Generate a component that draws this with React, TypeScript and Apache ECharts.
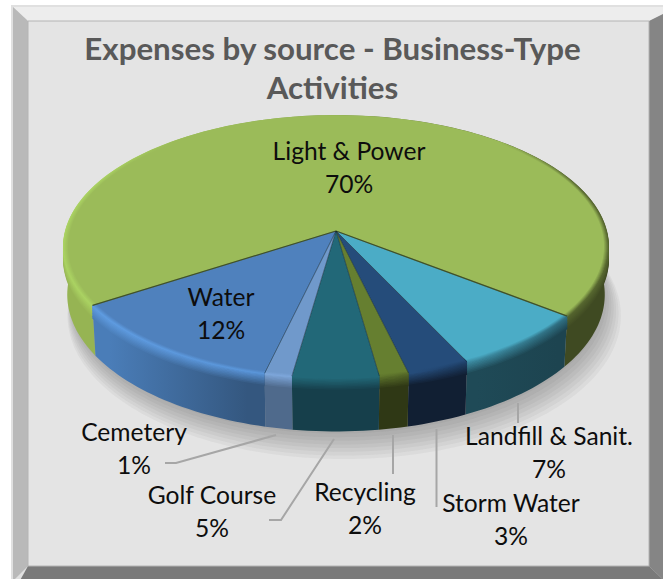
import React, { useEffect, useRef } from "react";
import * as echarts from "echarts";

const titleText = "Expenses by source - Business-Type\nActivities";
const categories = ["Light & Power", "Landfill & Sanit.", "Storm Water", "Recycling", "Golf Course", "Cemetery", "Water"];
const shares = [69.5, 7.45, 3.3, 1.55, 4.55, 1.45, 12.2];

// Styling, one entry per slice: top face, wall left/right, rim left/right, dividing line
const topColors = ["#9BBB59", "#4BACC6", "#254C7A", "#667F30", "#226878", "#7099CB", "#4F81BD"];
const wallColors = [
  ["#96B453", "#3F4A22"], ["#1F4A57", "#1D4450"], ["#111F33", "#111F33"], ["#2F3815", "#2F3815"],
  ["#163F4B", "#163F4B"], ["#4F6A8C", "#4F6A8C"], ["#4A7DB8", "#34577F"],
];
const rimColors = [
  ["#AAD262", "#55652E"], ["#3E8FA6", "#2F6F82"], ["#254C7A", "#1F4068"], ["#5E752C", "#566A28"],
  ["#226878", "#226878"], ["#7DA6DA", "#7DA6DA"], ["#5E9BE0", "#5A96DA"],
];
// Label anchors and leader lines (page pixels)
const labelCenters = [[349, 151], [549, 436], [511, 503], [365, 492], [212, 495], [134, 432], [221, 297]];
const leaderLines: number[][][] = [
  [], [[518, 403], [518, 423]], [[436.5, 429], [436.5, 507]], [[393, 435], [393, 474]],
  [[334, 439], [281, 520], [269, 520]], [[276, 435], [176, 463], [165, 463]], [],
];

const W = 663, H = 579;
// Perspective pie geometry
const CX = 336, CY = 231, RX = 270, RY = 129, PERSP = 0.122, DEPTH = 47, START = -57.4;

function project(deg: number, r = 1, drop = 0, shift = 0) {
  const t = (deg * Math.PI) / 180;
  const X = Math.sin(t) * r, Z = Math.cos(t) * r;
  const w = 1 / (1 - PERSP * Z);
  const shrink = 1 - 0.012 * Math.min(drop, 1);
  return [CX + shift + RX * X * w * shrink, CY + RY * Z * w + DEPTH * drop * w];
}
function arc(a0: number, a1: number, r = 1, drop = 0, shift = 0) {
  const n = Math.max(2, Math.ceil(Math.abs(a1 - a0) / 1.5));
  const pts: number[][] = [];
  for (let i = 0; i <= n; i++) pts.push(project(a0 + ((a1 - a0) * i) / n, r, drop, shift));
  return pts;
}
const total = shares.reduce((s, v) => s + v, 0);
function sliceAngles(i: number) {
  let acc = 0;
  for (let k = 0; k < i; k++) acc += shares[k];
  return [START - (acc / total) * 360, START - ((acc + shares[i]) / total) * 360];
}
function hex(c: string) {
  return [1, 3, 5].map((p) => parseInt(c.slice(p, p + 2), 16));
}
function mix(a: string, b: string, f: number) {
  const A = hex(a), B = hex(b);
  return "rgb(" + A.map((v, i) => Math.round(v + (B[i] - v) * f)).join(",") + ")";
}
function hGrad(pts: number[][], l: string, r: string, mid?: string) {
  const xs = pts.map((p) => p[0]);
  const x0 = Math.min(...xs), x1 = Math.max(...xs);
  const colorStops = mid
    ? [{ offset: 0, color: l }, { offset: 0.06, color: l }, { offset: 0.2, color: mid }, { offset: 0.8, color: mid }, { offset: 0.95, color: r }, { offset: 1, color: r }]
    : [{ offset: 0, color: l }, { offset: 0.1, color: l }, { offset: 0.9, color: r }, { offset: 1, color: r }];
  return { type: "linear", global: true, x: x0, y: 0, x2: x1, y2: 0, colorStops };
}

function renderWall(params: any) {
  const i = params.dataIndex;
  const [a0, a1] = sliceAngles(i);
  const top = arc(a0, a1);
  const children: any[] = [];
  if (i === 0) {
    for (let s = 8; s >= 0; s--) {
      children.push({
        type: "polygon",
        shape: { points: arc(0, 360, 0.985 + 0.0055 * s, 1.02 + 0.05 * s, 1 + 0.9 * s) },
        style: { fill: "rgba(70,70,70,0.055)" },
      });
    }
  }
  const bottom = arc(a1, a0, 1, 1);
  children.push({
    type: "polygon",
    shape: { points: top.concat(bottom) },
    style: { fill: hGrad(top, wallColors[i][0], wallColors[i][1]) as any },
  });
  const BAND = 12;
  for (let d = BAND; d >= 0; d -= 1.5) {
    const f = d / BAND;
    const pts = top.map((p) => [p[0], p[1] + d]);
    children.push({
      type: "polyline",
      shape: { points: pts },
      style: {
        fill: "none", lineWidth: 2,
        stroke: hGrad(top, mix(rimColors[i][0], wallColors[i][0], f), mix(rimColors[i][1], wallColors[i][1], f)) as any,
      },
    });
  }
  return { type: "group", children };
}

function renderTop(params: any) {
  const i = params.dataIndex;
  const [a0, a1] = sliceAngles(i);
  const apex = project(0, 0);
  const edge = arc(a0, a1);
  const children: any[] = [
    { type: "polygon", shape: { points: [apex].concat(edge) }, style: { fill: topColors[i] } },
  ];
  const STEPS = 5;
  for (let s = 0; s <= STEPS; s++) {
    const f = 1 - s / STEPS;
    const pts = arc(a0, a1, 1 - 0.0035 * s);
    children.push({
      type: "polyline",
      shape: { points: pts },
      style: {
        fill: "none", lineWidth: 1.6,
        stroke: hGrad(edge, mix(topColors[i], rimColors[i][0], f), mix(topColors[i], rimColors[i][1], f), i === 0 ? topColors[i] : undefined) as any,
      },
    });
  }
  return { type: "group", children };
}

function renderEdges(params: any) {
  const i = params.dataIndex;
  const [a0, a1] = sliceAngles(i);
  const apex = project(0, 0);
  const darkOlive = i === 0;
  const style = { stroke: darkOlive ? "#4F5F2B" : "rgba(20,40,50,0.35)", lineWidth: darkOlive ? 1.3 : 0.8 };
  const children: any[] = [
    { type: "line", shape: { x1: apex[0], y1: apex[1], x2: project(a0)[0], y2: project(a0)[1] }, style },
    { type: "line", shape: { x1: apex[0], y1: apex[1], x2: project(a1)[0], y2: project(a1)[1] }, style },
  ];
  return { type: "group", children };
}

function renderLabel(params: any) {
  const i = params.dataIndex;
  const [x, y] = labelCenters[i];
  const children: any[] = [];
  if (leaderLines[i].length) {
    children.push({
      type: "polyline",
      shape: { points: leaderLines[i] },
      style: { fill: "none", stroke: "#A6A6A6", lineWidth: 2 },
    });
  }
  const font = { fontFamily: "Lato", fontSize: 24.6, fill: "#0D0D0D", align: "center", verticalAlign: "middle" };
  children.push({ type: "text", style: { ...font, x, y: y - 1, text: categories[i] } });
  children.push({ type: "text", style: { ...font, x, y: y + 32, text: Math.round(shares[i]) + "%" } });
  return { type: "group", children };
}

const frame = [
  { type: "rect", shape: { x: 11, y: 5, width: W, height: H }, style: { fill: "#E0E0E0" } },
  { type: "polygon", shape: { points: [[13, 7], [W + 14, 7], [649, 21], [28, 21]] }, style: { fill: "#EDEDED" } },
  { type: "polygon", shape: { points: [[13, 7], [28, 21], [28, 566], [13, H + 2]] }, style: { fill: "#B9B9B9" } },
  { type: "polygon", shape: { points: [[649, 21], [W + 14, 7], [W + 14, H + 14], [649, 566]] }, style: { fill: "#858585" } },
  { type: "polygon", shape: { points: [[28, 566], [649, 566], [W + 14, H + 14], [13, H + 14]] }, style: { fill: "#7A7A7A" } },
  { type: "rect", shape: { x: 28, y: 21, width: 621, height: 545 }, style: { fill: "#E4E4E4", stroke: "#B4B4B4", lineWidth: 1 } },
];

const dataItems = shares.map((v, i) => ({ name: categories[i], value: v }));

export default function App() {
  const ref = useRef<HTMLDivElement>(null);
  useEffect(() => {
    document.body.style.margin = "0";
    const chart = echarts.init(ref.current!, null, { renderer: "svg" });
    chart.setOption({
      animation: false,
      backgroundColor: "#FFFFFF",
      graphic: { elements: frame.map((e) => ({ ...e, z: -10, silent: true })) },
      title: {
        text: titleText, left: 327.5, top: 23, textAlign: "center",
        textStyle: { fontFamily: "Lato", fontWeight: "bold", fontSize: 31.3, lineHeight: 39, color: "#595959" },
      },
      series: [
        { type: "custom", coordinateSystem: "none", renderItem: renderWall, data: dataItems, z: 2, silent: true },
        { type: "custom", coordinateSystem: "none", renderItem: renderTop, data: dataItems, z: 3, silent: true },
        { type: "custom", coordinateSystem: "none", renderItem: renderEdges, data: dataItems, z: 4, silent: true },
        { type: "custom", coordinateSystem: "none", renderItem: renderLabel, data: dataItems, z: 5, silent: true },
      ],
    });
    return () => chart.dispose();
  }, []);
  return <div ref={ref} style={{ position: "absolute", left: 0, top: 0, width: W, height: H }} />;
}
